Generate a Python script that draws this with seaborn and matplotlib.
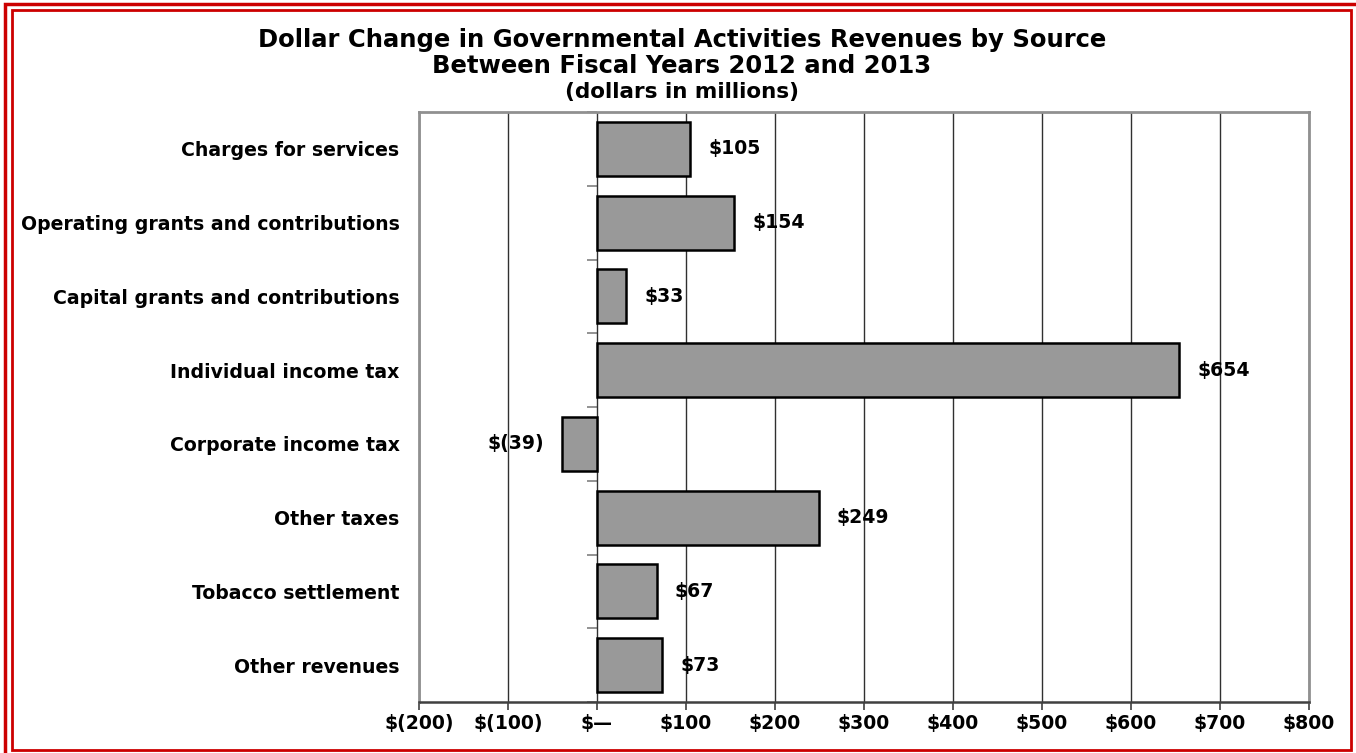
import matplotlib
matplotlib.use("Agg")
import matplotlib.pyplot as plt
import seaborn as sns
import pandas as pd
from matplotlib.patches import Rectangle
from matplotlib.ticker import NullFormatter

categories = ["Charges for services", "Operating grants and contributions",
              "Capital grants and contributions", "Individual income tax",
              "Corporate income tax", "Other taxes", "Tobacco settlement",
              "Other revenues"]
values = [105, 154, 33, 654, -39, 249, 67, 73]
xticks = [-200, -100, 0, 100, 200, 300, 400, 500, 600, 700, 800]
xticklabels = ["$(200)", "$(100)", "$\u2014", "$100", "$200", "$300", "$400",
               "$500", "$600", "$700", "$800"]

sns.set_theme(style="white")
plt.rcParams["font.family"] = ["DejaVu Sans"]
plt.rcParams["font.weight"] = "bold"
plt.rcParams["text.color"] = "black"
plt.rcParams["xtick.color"] = "black"
plt.rcParams["ytick.color"] = "black"
plt.rcParams["xtick.labelcolor"] = "black"
plt.rcParams["ytick.labelcolor"] = "black"

df = pd.DataFrame({"category": categories, "value": values})

fig = plt.figure(figsize=(13.56, 7.53), dpi=100)
ax = fig.add_axes([419/1356, 1-702/753, 890/1356, 590/753])

sns.barplot(data=df, y="category", x="value", orient="h", color="#999999",
            saturation=1, edgecolor="black", linewidth=1.8, width=0.73, ax=ax,
            zorder=3)

FS = 13.6
ax.set_xlim(-200, 800)
ax.set_xticks(xticks)
ax.set_xticklabels(xticklabels, fontsize=FS, fontweight="bold", color="black")
ax.set_ylim(len(categories)-0.5, -0.5)
ax.set_yticks(range(len(categories)))
ax.set_yticklabels(categories, fontsize=FS, fontweight="bold", color="black")
ax.tick_params(axis="y", length=0, pad=14)
ax.tick_params(axis="x", length=6, width=1.2, color="#404040", pad=3,
               direction="out", bottom=True)
ax.set_xlabel("")
ax.set_ylabel("")
ax.xaxis.grid(True, color="#303030", linewidth=1.0, zorder=0)
ax.yaxis.grid(False)
for s in ["top", "right", "left"]:
    ax.spines[s].set_color("#909090")
    ax.spines[s].set_linewidth(2)
    ax.spines[s].set_visible(True)
ax.spines["bottom"].set_color("#404040")
ax.spines["bottom"].set_linewidth(1.8)

# category-boundary ticks on the zero line
sec = ax.secondary_yaxis(0.2)
sec.spines["left"].set_visible(False)
sec.set_yticks([i + 0.5 for i in range(-1, len(categories))])
sec.yaxis.set_major_formatter(NullFormatter())
sec.tick_params(axis="y", length=7, width=1.2, color="#808080", direction="out")

labels = [f"${v}" if v >= 0 else f"$({-v})" for v in values]
ax.bar_label(ax.containers[0], labels=labels, padding=13, fontsize=FS,
             fontweight="bold", color="black")

fig.text(682/1356, 1-40/753, "Dollar Change in Governmental Activities Revenues by Source",
         ha="center", va="center", fontsize=17.5, fontweight="bold")
fig.text(682/1356, 1-66/753, "Between Fiscal Years 2012 and 2013",
         ha="center", va="center", fontsize=17.5, fontweight="bold")
fig.text(682/1356, 1-92/753, "(dollars in millions)",
         ha="center", va="center", fontsize=15.5, fontweight="bold")

W, H = 1356, 753
fig.patches.append(Rectangle((5/W, 1-757/H), 1353/W, 753/H, transform=fig.transFigure,
                             fill=False, edgecolor="#CC0000", linewidth=2.5))
fig.patches.append(Rectangle((12/W, 1-750/H), 1339/W, 740/H, transform=fig.transFigure,
                             fill=False, edgecolor="#CC0000", linewidth=2.0))

fig.savefig("out.png", dpi=100)
